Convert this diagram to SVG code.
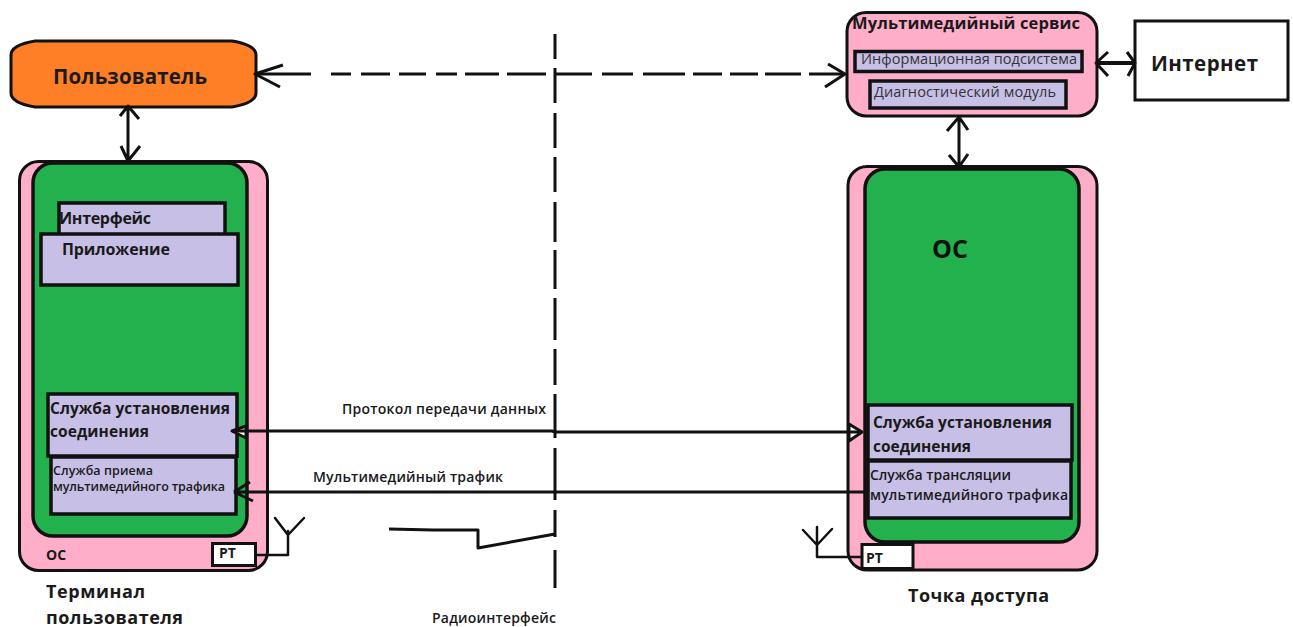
<svg xmlns="http://www.w3.org/2000/svg" width="1293" height="627" viewBox="0 0 1293 627">
<style>
text{font-family:"Open Sans","Liberation Sans",sans-serif;font-weight:700;fill:#1a1a1a}
.pink{fill:#ffaec9;stroke:#111;stroke-width:3}
.green{fill:#22b14c;stroke:#111;stroke-width:3.5}
.lil{fill:#c8bfe7;stroke:#111;stroke-width:3.5}
.wh{fill:#fff;stroke:#111;stroke-width:3}
.ln{fill:none;stroke:#111;stroke-width:3;stroke-linecap:butt;stroke-linejoin:round}
.thin{fill:none;stroke:#111;stroke-width:2.5;stroke-linecap:round;stroke-linejoin:round}
.head{fill:#fff;stroke:#111;stroke-width:3;stroke-linejoin:round}
.s14{font-size:16px}.s11{font-size:12.500px;font-weight:600}.s12{font-size:14px;font-weight:600}
.sub{font-size:14.500px;font-weight:400;fill:#333}
</style>
<rect width="1293" height="627" fill="#fff"/>
<g id="terminal">
<rect class="pink" x="19.500" y="161.500" width="248" height="409" rx="19"/>
<rect class="green" x="33" y="163" width="214" height="373" rx="20"/>
<text x="46" y="560" font-size="14">ОС</text>
<text x="46" y="598" font-size="18" textLength="99">Терминал</text>
<text x="46" y="624" font-size="18" textLength="137">пользователя</text>
</g>
<g id="user">
<path d="M35 41H232Q256 45 256 55V93Q256 103 232 107H35Q11 103 11 93V55Q11 45 35 41Z" fill="#ff7f27" stroke="#111" stroke-width="3"/>
<text x="53" y="84" font-size="20.500" font-weight="600" textLength="154">Пользователь</text>
</g>
<g id="interface"><rect class="lil" x="59" y="203" width="166" height="32"/><text x="59" y="224" class="s14" textLength="92">Интерфейс</text></g>
<g id="application"><rect class="lil" x="41" y="234" width="197" height="51"/><text x="62" y="255" class="s14" textLength="108">Приложение</text></g>
<g id="connection-left"><rect class="lil" x="48" y="394" width="189" height="62"/><text x="50" y="414" font-size="15.500" textLength="180">Служба установления</text><text x="50" y="437" font-size="15.500" textLength="99">соединения</text></g>
<g id="receive"><rect class="lil" x="51" y="457" width="185" height="57"/><text x="53" y="475" class="s11" textLength="100">Служба приема</text><text x="53" y="491" class="s11" textLength="172">мультимедийного трафика</text></g>
<g id="rt-left"><rect class="wh" x="212.500" y="543.500" width="43" height="22"/><text x="219" y="558" font-size="14">РТ</text></g>
<g id="service">
<rect class="pink" x="847" y="12.500" width="250" height="103.500" rx="19"/>
<text x="852" y="29" font-size="16.500" textLength="228">Мультимедийный сервис</text>
</g>
<g id="info"><rect class="lil" x="855" y="51.500" width="227" height="20"/><text x="861" y="64" class="sub" textLength="216">Информационная подсистема</text></g>
<g id="diag"><rect class="lil" x="870" y="81" width="196" height="27"/><text x="874" y="97" class="sub" textLength="182">Диагностический модуль</text></g>
<g id="internet"><rect class="wh" x="1135" y="21" width="153" height="79"/><text x="1151" y="71" font-size="20.500" textLength="107">Интернет</text></g>
<g id="access">
<rect class="pink" x="848" y="166.500" width="249" height="403.500" rx="19"/>
<rect class="green" x="865" y="169" width="214" height="373" rx="20"/>
<text x="932" y="258" font-size="25" style="fill:#111">ОС</text>
<text x="908" y="602" font-size="18" textLength="141">Точка доступа</text>
</g>
<g id="connection-right"><rect class="lil" x="868" y="405" width="204" height="55"/><text x="873" y="428" font-size="15.500" textLength="179">Служба установления</text><text x="873" y="452" font-size="15.500" textLength="98">соединения</text></g>
<g id="broadcast"><rect class="lil" x="868" y="461" width="203" height="57"/><text x="870" y="480" class="s12" textLength="141">Служба трансляции</text><text x="870" y="500" class="s12" textLength="198">мультимедийного трафика</text></g>
<g id="rt-right"><rect class="wh" x="862" y="544.500" width="51" height="24"/><text x="866" y="563" font-size="14">РТ</text></g>
<g id="labels">
<text x="342" y="414" class="s12" textLength="204">Протокол передачи данных</text>
<text x="313" y="482" class="s12" textLength="190">Мультимедийный трафик</text>
<text x="432" y="623" class="s12" textLength="124">Радиоинтерфейс</text>
</g>
<g id="connectors">
<path class="ln" d="M555 34V59M555 68V103M555 113V148M555 157V192M555 202V242M555 250V289M555 298V340M555 349V385M555 394V438M555 448V500M555 510V537M555 550V588"/>
<path class="ln" d="M258 74H283M280 74H311M331 74H351M361 74H390M399 74H426M436 74H457M465 74H499M507 74H546M556 74H592M602 74H633M643 74H685M693 74H722M730 74H758M765 74H801M809 74H843"/>
<path class="ln" d="M283 65L255 74L280 87M828 64L845 74L825 87"/>
<path class="ln" d="M128 106V163M120 116L128 106L139 119M121 146L128 161L140 146"/>
<path class="ln" d="M959 117V167M947 131L959 117L968 130M949 155L959 167L968 154"/>
<path d="M1096 63H1135" fill="none" stroke="#111" stroke-width="4"/>
<path class="ln" d="M1108 52L1096 63L1108 76M1127 52L1135 63L1128 76"/>
<path class="head" d="M232 431L246 426V438Z"/>
<path class="head" d="M862 432L849 424V441Z"/>
<path class="ln" d="M232 431H552L555 432H862"/>
<path class="ln" d="M234 492H864M234 492L250 482M234 492L253 501"/>
<path class="ln" d="M389 529L433 530H478V548L555 534"/>
<path class="thin" d="M256 555H288V531M275 518L288 535L304 518"/>
<path class="thin" d="M862 557H817V527M803 530L817 545L832 529"/>
</g>
</svg>
